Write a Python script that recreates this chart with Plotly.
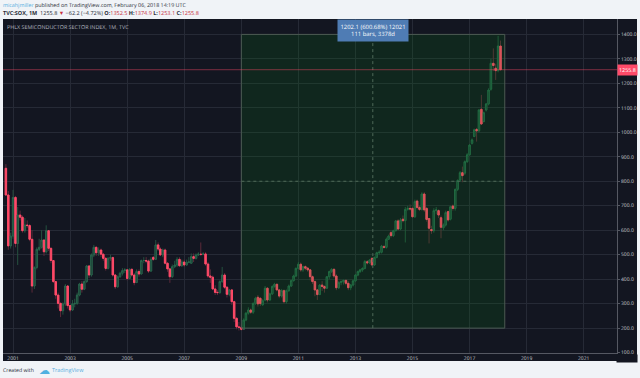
import pandas as pd
import plotly.graph_objects as go

opens = [853,744,536,576,734,546,662,653,598,621,619,563,372,448,522,530,560,512,598,526,476,390,335,301,271,299,372,292,274,299,301,335,380,359,390,454,417,499,530,508,519,502,485,444,485,488,417,369,410,424,435,438,403,
440,417,386,431,421,476,476,474,433,489,481,540,523,499,519,465,442,410,451,458,481,455,470,458,469,465,492,485,499,502,501,503,462,413,408,360,346,345,390,417,367,338,356,308,
240,205,203,195,233,261,274,265,301,326,322,295,315,363,315,340,370,379,356,331,353,308,353,372,394,413,444,461,438,451,445,438,410,390,356,337,376,370,363,410,431,440,413,365,386,390,395,383,365,376,393,417,431,438,444,
471,467,485,458,489,508,510,533,530,563,590,578,598,638,605,645,639,685,689,689,655,719,693,685,748,689,648,603,598,680,680,651,610,621,676,645,699,
689,767,805,835,833,880,908,955,983,1012,1006,1094,1044,1091,1116,1176,1282,1262,1252,1352.5]
highs = [870,760,590,765,740,695,680,660,650,640,625,600,452,530,565,600,560,620,600,530,478,392,345,305,305,380,375,295,315,320,345,385,392,395,458,456,505,540,535,530,525,505,490,490,500,492,420,415,430,445,445,440,445,
445,425,440,440,480,490,490,480,490,495,560,550,530,525,525,470,445,460,475,490,490,480,480,480,490,505,505,505,510,550,510,510,470,440,415,375,355,395,450,425,372,360,360,312,
245,225,215,240,265,285,280,305,328,335,325,318,372,368,345,375,385,382,358,360,358,358,378,398,418,448,470,468,455,456,448,442,415,395,360,380,392,375,412,435,445,445,420,392,395,398,398,392,380,398,420,435,442,448,478,
478,482,490,492,512,518,540,540,570,582,598,602,642,645,650,660,695,700,705,695,725,725,700,755,755,695,650,618,690,695,685,660,628,680,680,700,705,
770,808,842,860,885,915,952,975,1015,1018,1095,1153,1085,1120,1180,1300,1343,1280,1394,1374.9]
lows = [740,520,525,565,530,458,640,590,590,610,555,345,360,440,515,525,495,505,515,465,385,320,280,245,255,290,280,265,270,285,295,330,345,355,385,405,410,490,495,495,490,475,435,440,475,410,360,365,405,415,425,395,400,
410,375,385,410,420,465,465,425,430,475,480,515,495,490,460,430,385,405,445,450,450,450,450,455,465,465,470,480,495,495,498,455,405,385,355,335,335,340,385,360,325,330,295,225,
195,190,190,195,228,255,258,258,295,288,290,292,310,305,312,335,365,350,322,325,300,300,348,368,390,408,440,430,430,436,430,395,380,330,315,335,352,345,360,400,425,405,355,360,375,378,375,355,355,370,388,412,425,430,440,
460,462,452,455,485,500,505,525,525,560,570,572,595,600,600,632,550,680,680,650,650,685,678,680,675,635,546,585,590,665,650,567,600,615,635,640,680,
680,760,800,796,825,875,905,950,980,962,1000,1030,1040,1085,1110,1170,1250,1214,1245,1253.1]
closes = [744,536,576,734,546,662,653,598,621,619,563,372,448,522,530,560,512,598,526,476,390,335,301,271,299,372,292,274,299,301,335,380,359,390,454,417,499,530,508,519,502,485,444,485,488,417,369,410,424,435,438,403,440,
417,386,431,421,476,476,474,433,481,481,540,523,499,519,465,442,410,451,458,481,455,470,458,469,470,492,485,499,502,501,503,462,413,408,360,346,345,390,417,367,338,356,308,240,
205,203,195,233,261,274,265,301,322,299,300,312,363,315,340,370,379,356,331,353,308,353,372,394,413,444,461,438,451,445,438,410,390,356,337,376,370,363,410,431,440,413,365,386,390,395,383,365,376,393,417,431,438,444,472,
467,478,458,489,508,510,535,530,563,576,578,598,638,605,642,639,685,689,687,655,717,693,685,748,683,644,608,598,680,683,662,612,621,672,642,696,689,
767,803,835,823,880,908,948,969,1010,1006,1091,1034,1080,1116,1173,1282,1273,1252,1352.5,1255.8]
months = pd.date_range("2000-10-01", periods=len(closes), freq="MS").strftime("%Y-%m-%d").tolist()
assert len(opens) == len(highs) == len(lows) == len(closes), (len(opens), len(highs), len(lows), len(closes))

y_ticks = [100,200,300,400,500,600,700,800,900,1000,1100,1200,1300,1400]
x_ticks = ["2001","2003","2005","2007","2009","2011","2013","2015","2017","2019","2021"]
last_price = 1255.8
box_start, box_end, box_mid = "2009-01-01", "2018-03-27", "2013-08-11"
box_low, box_high, box_price_mid = 200, 1400, 800

PAGE = "#f0f3f7"; PANEL = "#131621"; GRID = "#262a36"; AXIS = "#555862"; TICK = "#c9ccd2"
RED = "#ff4a68"; GREEN_FILL = "#1a3c34"; GREEN_EDGE = "#2b6e52"
FONT = "Open Sans"
L, T, R, B = 3, 19, 617, 353
W, H = 640, 378

def px(x): return (x - L) / (R - L)
def py(y): return 1 - (y - T) / (B - T)

fig = go.Figure()
fig.add_trace(go.Candlestick(
    x=months, open=opens, high=highs, low=lows, close=closes, whiskerwidth=0,
    increasing=dict(line=dict(color="#25503f", width=1), fillcolor="rgba(0,0,0,0)"),
    decreasing=dict(line=dict(color="#5c2a3a", width=1), fillcolor="rgba(0,0,0,0)"),
    showlegend=False, hoverinfo="skip"))
fig.add_trace(go.Candlestick(
    x=months, open=opens, close=closes, whiskerwidth=0,
    high=[max(o, c) for o, c in zip(opens, closes)],
    low=[min(o, c) for o, c in zip(opens, closes)],
    increasing=dict(line=dict(color=GREEN_EDGE, width=0.7), fillcolor=GREEN_FILL),
    decreasing=dict(line=dict(color=RED, width=1), fillcolor=RED),
    showlegend=False, hoverinfo="skip"))

shapes = [
    dict(type="rect", xref="paper", yref="paper", x0=px(3), x1=px(637), y0=py(19), y1=py(361),
         fillcolor=PANEL, line_width=0, layer="below"),
    dict(type="rect", xref="x", yref="y", x0=box_start, x1=box_end, y0=box_low, y1=box_high,
         fillcolor="rgba(0,143,14,0.15)", line=dict(color="#4b5a52", width=1), layer="above"),
    dict(type="line", xref="x", yref="y", x0=box_start, x1=box_end, y0=box_price_mid, y1=box_price_mid,
         line=dict(color="#4f6a58", width=1, dash="dot"), layer="above"),
    dict(type="line", xref="x", yref="y", x0=box_mid, x1=box_mid, y0=box_low, y1=box_high,
         line=dict(color="#4f6a58", width=1, dash="dot"), layer="above"),
    dict(type="line", xref="paper", yref="y", x0=0, x1=1, y0=last_price, y1=last_price,
         line=dict(color="rgba(255,74,104,0.45)", width=1), layer="above"),
]

def note(x, y, text, size=5.4, color="#2a2e39", anchor="left", **kw):
    return dict(xref="paper", yref="paper", x=px(x), y=py(y), text=text, showarrow=False,
                xanchor=anchor, yanchor="middle", align="center" if anchor == "center" else "left",
                font=dict(family=FONT, size=size, color=color), **kw)

VAL = "#c8323f"
annotations = [
    note(1, 5.5, '<span style="color:#57aee0">micahjmiller</span> published on TradingView.com, February 06, 2018 14:19 UTC', size=5.35),
    note(1, 13, f'<b>TVC:SOX, 1M</b>  1255.8 <span style="color:{VAL}">▼</span> −62.2 (−4.72%) '
                f'<b>O:</b><span style="color:{VAL}">1352.5</span> <b>H:</b><span style="color:{VAL}">1374.9</span> '
                f'<b>L:</b><span style="color:{VAL}">1253.1</span> <b>C:</b><span style="color:{VAL}">1255.8</span>', size=5.5),
    note(5, 27, "PHLX SEMICONDUCTOR SECTOR INDEX, 1M, TVC", size=5.4, color="#b4b8c0"),
    note(373, 30.7, "1202.1 (600.68%) 12021<br>111 bars, 3378d", size=5.9, color="#ffffff", anchor="center",
         bgcolor="#4f7cb4", borderpad=2.5),
    note(627, 70, "1255.8", size=5.4, color="#ffffff", anchor="center", bgcolor=RED, borderpad=1),
    note(627.5, 358, " ", size=5, color=PANEL, anchor="center", bgcolor=PANEL, width=18, height=5),
    note(1, 370, "Created with", size=5.2),
    note(37, 369.5, "☁", size=11, color="#4fb0e0"),
    note(50, 370, "TradingView", size=5.5, color="#57aee0"),
]

fig.update_layout(
    width=W, height=H, autosize=False,
    margin=dict(l=L, r=W - R, t=T, b=H - B, pad=0),
    paper_bgcolor=PAGE, plot_bgcolor=PANEL, shapes=shapes, annotations=annotations,
    font=dict(family=FONT), showlegend=False, boxmode="overlay", boxgap=0.05,
    xaxis=dict(type="date", range=["2000-08-25", "2022-03-03"], rangeslider=dict(visible=False),
               tickvals=[f"{y}-01-01" for y in x_ticks], ticktext=x_ticks,
               tickfont=dict(size=5, color=TICK, family=FONT), ticks="", ticklen=0,
               showgrid=True, gridcolor=GRID, gridwidth=1, showline=True, linecolor=AXIS, linewidth=1, zeroline=False),
    yaxis=dict(side="right", range=[98.3, 1463], tickvals=y_ticks, ticktext=[f"{v:.1f}" for v in y_ticks],
               tickfont=dict(size=5, color=TICK, family=FONT), ticks="outside", ticklen=2, tickcolor=AXIS,
               showgrid=True, gridcolor=GRID, gridwidth=1, showline=True, linecolor=AXIS, linewidth=1, zeroline=False),
)
fig.write_html("out.html", config=dict(displayModeBar=False),
               post_script="document.documentElement.style.overflow='hidden';document.body.style.margin='0';document.body.style.background='#f0f3f7';document.body.style.textRendering='geometricPrecision';Plotly.redraw(document.getElementById('{plot_id}'));")
